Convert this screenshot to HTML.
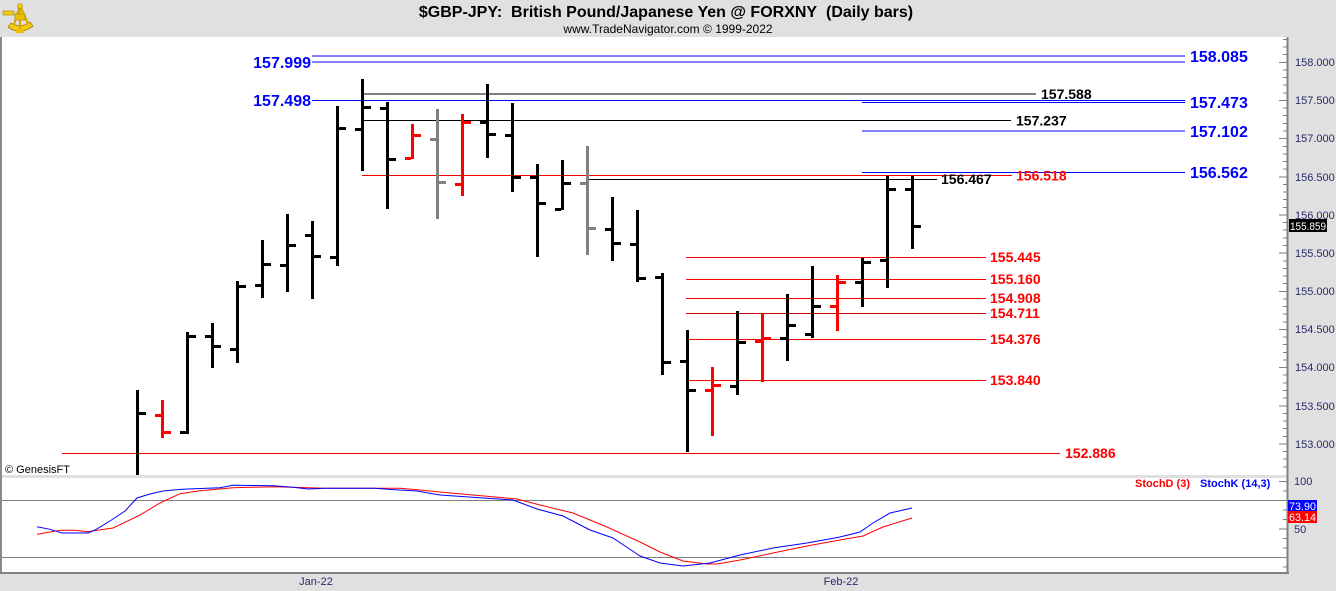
<!DOCTYPE html>
<html><head><meta charset="utf-8"><style>
html,body{margin:0;padding:0;background:#e0e0e0;}
body{width:1336px;height:591px;overflow:hidden;position:relative;}
svg{position:absolute;left:0;top:0;}
text{font-family:"Liberation Sans",Arial,sans-serif;}
</style></head><body>
<svg width="1336" height="591" viewBox="0 0 1336 591" xmlns="http://www.w3.org/2000/svg">
<rect x="0" y="0" width="1336" height="591" fill="#e0e0e0"/>
<!-- panels -->
<rect x="2" y="37" width="1285" height="438" fill="#fff"/>
<rect x="2" y="478" width="1285" height="94" fill="#fff"/>
<rect x="0" y="37" width="2" height="537" fill="#8a8a8a"/>
<rect x="0" y="572" width="1289" height="2" fill="#808080"/>
<rect x="1286.5" y="37" width="2" height="537" fill="#808080"/>

<!-- logo -->
<g>
<path d="M8 27 Q20 36 33 26 L30 22 Q20 29 11 23 Z" fill="#f2cc10" stroke="#a88000" stroke-width="0.8"/>
<path d="M20 5 L14 25 M20 5 L28 24 M20 5 L20 30" stroke="#d8a800" stroke-width="2.2" fill="none"/>
<rect x="3" y="11" width="11" height="4" fill="#f2cc10" stroke="#a88000" stroke-width="0.6"/>
<circle cx="20" cy="6" r="2.5" fill="#f2cc10" stroke="#a88000" stroke-width="0.6"/>
<rect x="15" y="14" width="10" height="6" fill="#e8c000" stroke="#a88000" stroke-width="0.6"/>
<rect x="16" y="29" width="8" height="4" fill="#e8c000"/>
</g>

<!-- title -->
<text x="666" y="17" font-size="16" font-weight="bold" text-anchor="middle" fill="#000">$GBP-JPY:&#160; British Pound/Japanese Yen @ FORXNY&#160; (Daily bars)</text>
<text x="668" y="33" font-size="12" text-anchor="middle" fill="#000">www.TradeNavigator.com © 1999-2022</text>

<!-- horizontal level lines -->
<g stroke-width="1" shape-rendering="crispEdges">
<line x1="312" y1="56" x2="1185" y2="56" stroke="#0000ff"/>
<line x1="312" y1="62" x2="1185" y2="62" stroke="#0000ff"/>
<line x1="362" y1="94" x2="1036" y2="94" stroke="#000"/>
<line x1="312" y1="100.5" x2="1185" y2="100.5" stroke="#0000ff"/>
<line x1="862" y1="102.5" x2="1185" y2="102.5" stroke="#0000ff"/>
<line x1="362" y1="120.5" x2="1011" y2="120.5" stroke="#000"/>
<line x1="862" y1="131" x2="1185" y2="131" stroke="#0000ff"/>
<line x1="862" y1="172.5" x2="1185" y2="172.5" stroke="#0000ff"/>
<line x1="362" y1="175.5" x2="1012" y2="175.5" stroke="#ff0000"/>
<line x1="587" y1="179.5" x2="937" y2="179.5" stroke="#000"/>
<line x1="686" y1="257.5" x2="986" y2="257.5" stroke="#ff0000"/>
<line x1="686" y1="279.5" x2="986" y2="279.5" stroke="#ff0000"/>
<line x1="686" y1="298.5" x2="986" y2="298.5" stroke="#ff0000"/>
<line x1="686" y1="313.5" x2="986" y2="313.5" stroke="#cc0000"/>
<line x1="686" y1="339.5" x2="986" y2="339.5" stroke="#ff0000"/>
<line x1="686" y1="380.5" x2="986" y2="380.5" stroke="#ff0000"/>
<line x1="62" y1="453.5" x2="1060" y2="453.5" stroke="#ff0000"/>
</g>

<!-- level labels -->
<g font-weight="bold">
<text x="311" y="68" font-size="16" text-anchor="end" fill="#0000ff">157.999</text>
<text x="311" y="106" font-size="16" text-anchor="end" fill="#0000ff">157.498</text>
<text x="1190" y="62" font-size="16" fill="#0000ff">158.085</text>
<text x="1190" y="108" font-size="16" fill="#0000ff">157.473</text>
<text x="1190" y="137" font-size="16" fill="#0000ff">157.102</text>
<text x="1190" y="178" font-size="16" fill="#0000ff">156.562</text>
<text x="1041" y="99" font-size="14" fill="#000">157.588</text>
<text x="1016" y="125.5" font-size="14" fill="#000">157.237</text>
<text x="941" y="184" font-size="14" fill="#000">156.467</text>
<text x="1016" y="180.5" font-size="14" fill="#ff0000">156.518</text>
<text x="990" y="262" font-size="14" fill="#ff0000">155.445</text>
<text x="990" y="284" font-size="14" fill="#ff0000">155.160</text>
<text x="990" y="303" font-size="14" fill="#ff0000">154.908</text>
<text x="990" y="318" font-size="14" fill="#ff0000">154.711</text>
<text x="990" y="344" font-size="14" fill="#ff0000">154.376</text>
<text x="990" y="385" font-size="14" fill="#ff0000">153.840</text>
<text x="1065" y="458" font-size="14" fill="#ff0000">152.886</text>
</g>

<!-- bars -->
<g shape-rendering="crispEdges">
<g fill="#000"><rect x="136" y="390" width="3" height="85"/><rect x="139" y="412" width="7" height="3"/></g>
<g fill="#ff0000"><rect x="161" y="400" width="3" height="38"/><rect x="155" y="414" width="6" height="3"/><rect x="164" y="431" width="7" height="3"/></g>
<g fill="#000"><rect x="186" y="332" width="3" height="102"/><rect x="180" y="431" width="6" height="3"/><rect x="189" y="335" width="7" height="3"/></g>
<g fill="#000"><rect x="211" y="323" width="3" height="45"/><rect x="205" y="335" width="6" height="3"/><rect x="214" y="345" width="7" height="3"/></g>
<g fill="#000"><rect x="236" y="281" width="3" height="82"/><rect x="230" y="348" width="6" height="3"/><rect x="239" y="285" width="7" height="3"/></g>
<g fill="#000"><rect x="261" y="240" width="3" height="58"/><rect x="255" y="284" width="6" height="3"/><rect x="264" y="263" width="7" height="3"/></g>
<g fill="#000"><rect x="286" y="214" width="3" height="78"/><rect x="280" y="264" width="6" height="3"/><rect x="289" y="244" width="7" height="3"/></g>
<g fill="#000"><rect x="311" y="221" width="3" height="78"/><rect x="305" y="234" width="6" height="3"/><rect x="314" y="255" width="7" height="3"/></g>
<g fill="#000"><rect x="336" y="106" width="3" height="160"/><rect x="330" y="256" width="6" height="3"/><rect x="339" y="127" width="7" height="3"/></g>
<g fill="#000"><rect x="361" y="79" width="3" height="92"/><rect x="355" y="128" width="6" height="3"/><rect x="364" y="106" width="7" height="3"/></g>
<g fill="#000"><rect x="386" y="102" width="3" height="107"/><rect x="380" y="107" width="6" height="3"/><rect x="389" y="158" width="7" height="3"/></g>
<g fill="#ff0000"><rect x="411" y="124" width="3" height="35"/><rect x="405" y="157" width="6" height="3"/><rect x="414" y="134" width="7" height="3"/></g>
<g fill="#808080"><rect x="436" y="109" width="3" height="110"/><rect x="430" y="138" width="6" height="3"/><rect x="439" y="181" width="7" height="3"/></g>
<g fill="#ff0000"><rect x="461" y="114" width="3" height="82"/><rect x="455" y="183" width="6" height="3"/><rect x="464" y="121" width="7" height="3"/></g>
<g fill="#000"><rect x="486" y="84" width="3" height="74"/><rect x="480" y="121" width="6" height="3"/><rect x="489" y="133" width="7" height="3"/></g>
<g fill="#000"><rect x="511" y="103" width="3" height="89"/><rect x="505" y="134" width="6" height="3"/><rect x="514" y="176" width="7" height="3"/></g>
<g fill="#000"><rect x="536" y="164" width="3" height="93"/><rect x="530" y="176" width="6" height="3"/><rect x="539" y="202" width="7" height="3"/></g>
<g fill="#000"><rect x="561" y="160" width="3" height="50"/><rect x="555" y="208" width="6" height="3"/><rect x="564" y="182" width="7" height="3"/></g>
<g fill="#808080"><rect x="586" y="146" width="3" height="109"/><rect x="580" y="182" width="6" height="3"/><rect x="589" y="227" width="7" height="3"/></g>
<g fill="#000"><rect x="611" y="197" width="3" height="64"/><rect x="605" y="228" width="6" height="3"/><rect x="614" y="242" width="7" height="3"/></g>
<g fill="#000"><rect x="636" y="210" width="3" height="72"/><rect x="630" y="243" width="6" height="3"/><rect x="639" y="277" width="7" height="3"/></g>
<g fill="#000"><rect x="661" y="273" width="3" height="102"/><rect x="655" y="276" width="6" height="3"/><rect x="664" y="361" width="7" height="3"/></g>
<g fill="#000"><rect x="686" y="330" width="3" height="122"/><rect x="680" y="360" width="6" height="3"/><rect x="689" y="389" width="7" height="3"/></g>
<g fill="#ff0000"><rect x="711" y="367" width="3" height="69"/><rect x="705" y="389" width="6" height="3"/><rect x="714" y="384" width="7" height="3"/></g>
<g fill="#000"><rect x="736" y="311" width="3" height="84"/><rect x="730" y="385" width="6" height="3"/><rect x="739" y="341" width="7" height="3"/></g>
<g fill="#ff0000"><rect x="761" y="314" width="3" height="68"/><rect x="755" y="340" width="6" height="3"/><rect x="764" y="337" width="7" height="3"/></g>
<g fill="#000"><rect x="786" y="294" width="3" height="67"/><rect x="780" y="337" width="6" height="3"/><rect x="789" y="324" width="7" height="3"/></g>
<g fill="#000"><rect x="811" y="266" width="3" height="72"/><rect x="805" y="333" width="6" height="3"/><rect x="814" y="305" width="7" height="3"/></g>
<g fill="#ff0000"><rect x="836" y="275" width="3" height="56"/><rect x="830" y="305" width="6" height="3"/><rect x="839" y="281" width="7" height="3"/></g>
<g fill="#000"><rect x="861" y="258" width="3" height="49"/><rect x="855" y="281" width="6" height="3"/><rect x="864" y="261" width="7" height="3"/></g>
<g fill="#000"><rect x="886" y="176" width="3" height="112"/><rect x="880" y="259" width="6" height="3"/><rect x="889" y="188" width="7" height="3"/></g>
<g fill="#000"><rect x="911" y="176" width="3" height="73"/><rect x="905" y="188" width="6" height="3"/><rect x="914" y="225" width="7" height="3"/></g>
</g>

<text x="5" y="473" font-size="11" fill="#000">© GenesisFT</text>

<!-- right axis ticks -->
<path stroke="#808080" stroke-width="1" fill="none" shape-rendering="crispEdges" d="M1283 39.4h4M1283 47h4M1283 54.7h4M1279 62.3h8M1283 69.9h4M1283 77.6h4M1283 85.2h4M1283 92.8h4M1279 100.5h8M1283 108.1h4M1283 115.7h4M1283 123.4h4M1283 131h4M1279 138.7h8M1283 146.3h4M1283 153.9h4M1283 161.5h4M1283 169.2h4M1279 176.8h8M1283 184.5h4M1283 192.1h4M1283 199.7h4M1283 207.3h4M1279 215h8M1283 222.6h4M1283 230.2h4M1283 237.9h4M1283 245.5h4M1279 253.1h8M1283 260.8h4M1283 268.4h4M1283 276h4M1283 283.7h4M1279 291.3h8M1283 298.9h4M1283 306.6h4M1283 314.2h4M1283 321.8h4M1279 329.5h8M1283 337.1h4M1283 344.7h4M1283 352.3h4M1283 360h4M1279 367.6h8M1283 375.2h4M1283 382.9h4M1283 390.5h4M1283 398.1h4M1279 405.8h8M1283 413.4h4M1283 421h4M1283 428.7h4M1283 436.3h4M1279 443.9h8M1283 451.6h4M1283 459.2h4M1283 466.8h4
M1279 481.3h8M1283 490.8h4M1283 500.3h4M1283 509.8h4M1283 519.3h4M1279 528.8h8M1283 538.3h4M1283 547.8h4M1283 557.3h4M1283 566.8h4"/>

<g font-size="11" fill="#2a2a6a">
<text x="1295" y="66">158.000</text>
<text x="1295" y="104">157.500</text>
<text x="1295" y="142">157.000</text>
<text x="1295" y="181">156.500</text>
<text x="1295" y="219">156.000</text>
<text x="1295" y="257">155.500</text>
<text x="1295" y="295">155.000</text>
<text x="1295" y="333">154.500</text>
<text x="1295" y="371">154.000</text>
<text x="1295" y="410">153.500</text>
<text x="1295" y="448">153.000</text>
<text x="1294" y="485">100</text>
<text x="1294" y="533">50</text>
</g>
<rect x="1289" y="219" width="38" height="13" fill="#000"/>
<text x="1290" y="230" font-size="11" fill="#fff" textLength="36" lengthAdjust="spacingAndGlyphs">155.859</text>

<!-- stoch panel -->
<line x1="2" y1="500.5" x2="1287" y2="500.5" stroke="#808080" stroke-width="1"/>
<line x1="2" y1="557.5" x2="1287" y2="557.5" stroke="#808080" stroke-width="1"/>
<polyline fill="none" stroke="#ff0000" stroke-width="1" points="37,534.3 60,530.3 75,530.3 87,531.7 113,528 140,515 160,503 180,493.7 200,490.7 233,487.7 275,486.7 325,488.3 400,488.3 420,490 440,492 517,499 540,505 573,513 607,527 640,542 660,552 683,561 707,564 717,564 740,560 773,553 807,546 840,540 863,536 883,527 912,518"/>
<polyline fill="none" stroke="#0000ff" stroke-width="1" points="37,526.7 50,529.3 62,533 88,533 95,530 110,521 125,511 137,498 150,494 163,491 182,489.3 220,487.7 233,485.3 273,485.7 293,487.3 308,489 325,488.3 375,488.3 395,489.7 417,491 440,495 513,500 537,509 563,516 590,530 613,538 640,556 660,563 683,566 710,563 740,555 773,548 807,543 840,537 860,532 873,523 890,513 912,508"/>
<text x="1135" y="487" font-size="11" font-weight="bold" fill="#ff0000">StochD (3)</text>
<text x="1200" y="487" font-size="11" font-weight="bold" fill="#0000ff">StochK (14,3)</text>
<rect x="1288" y="500" width="29" height="11" fill="#0000ff"/>
<text x="1289" y="510" font-size="11" fill="#fff" textLength="27" lengthAdjust="spacingAndGlyphs">73.90</text>
<rect x="1288" y="511" width="29" height="12" fill="#ff0000"/>
<text x="1289" y="521" font-size="11" fill="#fff" textLength="27" lengthAdjust="spacingAndGlyphs">63.14</text>

<!-- dates -->
<text x="316" y="585" font-size="11" text-anchor="middle" fill="#2a2a6a">Jan-22</text>
<text x="841" y="585" font-size="11" text-anchor="middle" fill="#2a2a6a">Feb-22</text>
</svg>
</body></html>
